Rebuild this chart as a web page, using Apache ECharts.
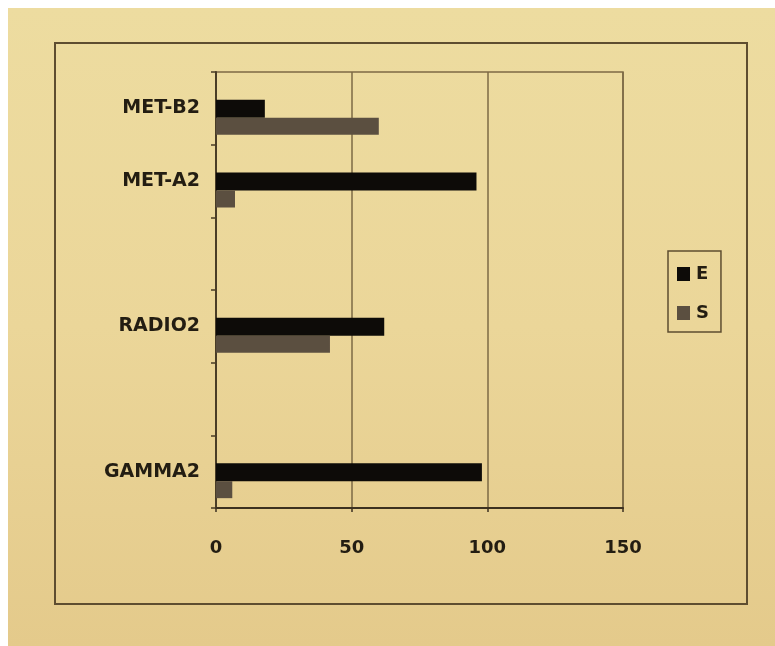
<!DOCTYPE html>
<html>
<head>
<meta charset="utf-8">
<script src="https://cdn.jsdelivr.net/npm/echarts@6/dist/echarts.min.js"></script>
<style>
  html, body { margin: 0; padding: 0; background: #ffffff; }
  #chart { width: 775px; height: 646px; }
</style>
</head>
<body>
<div id="chart"></div>
<script>
// Categories listed bottom to top; the blank rows are unlabeled slots.
const categories = ['GAMMA2', '', 'RADIO2', '', 'MET-A2', 'MET-B2'];
const valuesE = [98, null, 62, null, 96, 18];
const valuesS = [6, null, 42, null, 7, 60];
const xTicks = [0, 50, 100, 150];

const ink = '#231d12';
const rule = '#7d6a45';
const labelFont = 'DejaVu Sans';

const chart = echarts.init(document.getElementById('chart'), null, { renderer: 'canvas' });

chart.setOption({
  backgroundColor: '#ffffff',
  animation: false,
  graphic: [
    {
      type: 'rect', z: -10, silent: true,
      shape: { x: 8, y: 8, width: 767, height: 638 },
      style: {
        fill: new echarts.graphic.LinearGradient(0, 0, 0, 1, [
          { offset: 0, color: '#eddca0' },
          { offset: 0.5, color: '#ebd699' },
          { offset: 1, color: '#e4ca8b' }
        ])
      }
    },
    {
      type: 'rect', z: -5, silent: true,
      shape: { x: 55, y: 43, width: 692, height: 561 },
      style: { fill: 'none', stroke: '#5e4d30', lineWidth: 2 }
    }
  ],
  grid: { left: 216, right: 152, top: 72, bottom: 138, containLabel: false, show: true, borderColor: rule, borderWidth: 1.5 },
  legend: {
    orient: 'vertical',
    left: 668, top: 251,
    data: ['E', 'S'],
    icon: 'rect',
    itemWidth: 13, itemHeight: 14, itemGap: 21,
    padding: [14, 12, 10, 9],
    borderColor: '#5e4d30', borderWidth: 1.5,
    textStyle: { fontFamily: labelFont, fontWeight: 'bold', fontSize: 18, color: ink, padding: [0, 0, 0, 1] }
  },
  xAxis: {
    type: 'value',
    min: xTicks[0], max: xTicks[xTicks.length - 1], interval: 50,
    axisLine: { show: true, lineStyle: { color: '#3c3120', width: 2 } },
    axisTick: { show: true, inside: false, length: 4, lineStyle: { color: '#3c3120', width: 1.5 } },
    splitLine: { show: true, lineStyle: { color: rule, width: 1.5 } },
    axisLabel: { margin: 31, fontFamily: labelFont, fontWeight: 'bold', fontSize: 18, color: ink }
  },
  yAxis: {
    type: 'category',
    data: categories,
    axisLine: { show: true, lineStyle: { color: '#4a3d26', width: 2 } },
    axisTick: { show: true, inside: false, length: 5, alignWithLabel: false, lineStyle: { color: '#4a3d26', width: 1.5 } },
    axisLabel: { margin: 16, fontFamily: labelFont, fontWeight: 'bold', fontSize: 19, color: ink, interval: 0 }
  },
  series: [
    {
      // empty leading slot: shifts the E/S pair below the band centre
      name: 'slot', type: 'bar', data: categories.map(() => null),
      barWidth: 18, barGap: '0%', silent: true
    },
    {
      name: 'E', type: 'bar', data: valuesE,
      barWidth: 18, barGap: '0%',
      itemStyle: { color: '#0d0b08' }
    },
    {
      name: 'S', type: 'bar', data: valuesS,
      barWidth: 17, barGap: '0%',
      itemStyle: { color: '#5b4f40' }
    }
  ]
});
</script>
</body>
</html>
